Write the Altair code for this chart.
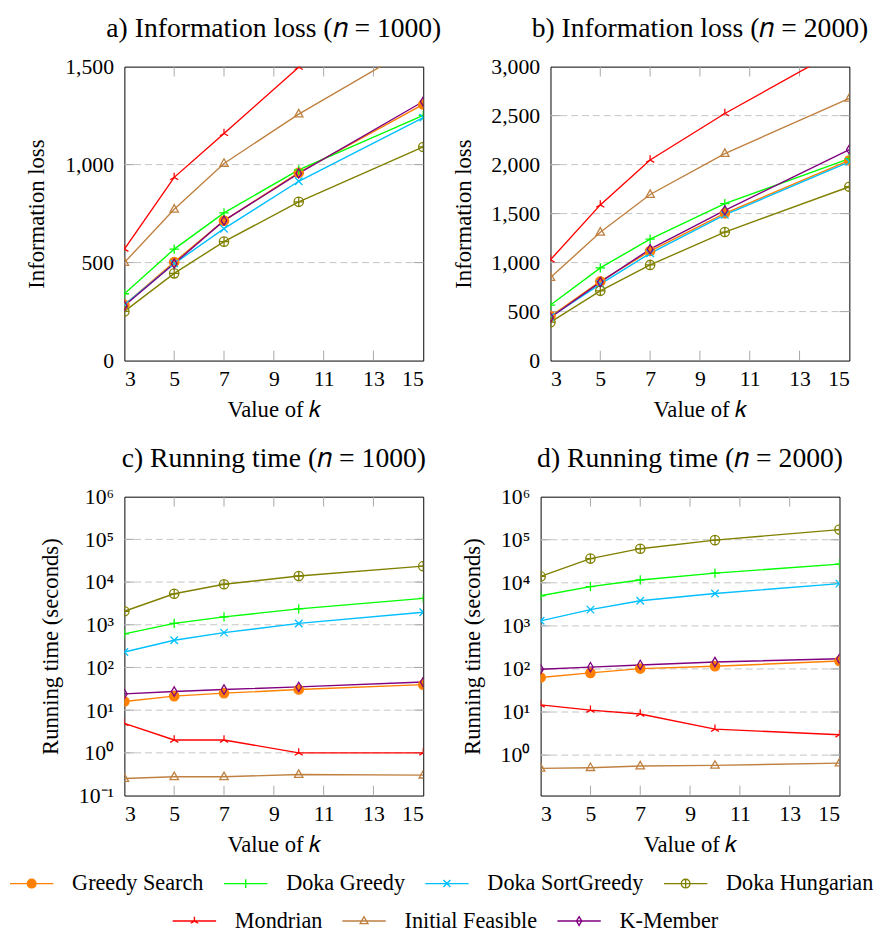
import altair as alt
import pandas as pd

# ---------------- data ----------------
K_VALUES = [3, 5, 7, 10, 15]
X_TICKS = [3, 5, 7, 9, 11, 13, 15]
X_INNER_TICKS = [5, 7, 9, 11, 13]

SERIES = ["Greedy Search", "Doka Greedy", "Doka SortGreedy", "Doka Hungarian",
          "Mondrian", "Initial Feasible", "K-Member"]
COLORS = ["#FF8000", "#00FF00", "#00BFFF", "#808000", "#FF0000", "#BF8040", "#800080"]
FILLS = ["#FF8000", "transparent", "transparent", "transparent",
         "transparent", "transparent", "transparent"]

# a) Information loss, n = 1000
IL_1000 = {
    "Greedy Search":    [284, 503, 714, 959, 1307],
    "Doka Greedy":      [341, 569, 754, 973, 1251],
    "Doka SortGreedy":  [284, 495, 673, 915, 1240],
    "Doka Hungarian":   [251, 445, 607, 810, 1090],
    "Mondrian":         [569, 935, 1159, 1497, 1950],
    "Initial Feasible": [500, 772, 1006, 1258, 1627],
    "K-Member":         [280, 495, 714, 955, 1322],
}
# b) Information loss, n = 2000
IL_2000 = {
    "Greedy Search":    [452, 808, 1118, 1503, 2044],
    "Doka Greedy":      [567, 946, 1240, 1602, 2061],
    "Doka SortGreedy":  [445, 781, 1095, 1487, 2028],
    "Doka Hungarian":   [392, 712, 976, 1312, 1774],
    "Mondrian":         [1029, 1589, 2047, 2522, 3229],
    "Initial Feasible": [847, 1309, 1695, 2113, 2677],
    "K-Member":         [440, 801, 1137, 1533, 2153],
}
# c) Running time (seconds), n = 1000
RT_1000 = {
    "Greedy Search":    [16, 21.3, 25, 30.4, 39.6],
    "Doka Greedy":      [610, 1075, 1535, 2350, 4150],
    "Doka SortGreedy":  [230, 435, 654, 1075, 1966],
    "Doka Hungarian":   [2075, 5320, 8900, 13870, 23600],
    "Mondrian":         [4.9, 2.0, 2.0, 1.0, 1.0],
    "Initial Feasible": [0.25, 0.275, 0.275, 0.311, 0.30],
    "K-Member":         [24, 27.3, 30.4, 35, 45.6],
}
# d) Running time (seconds), n = 2000
RT_2000 = {
    "Greedy Search":    [63.5, 81, 102, 115.5, 153],
    "Doka Greedy":      [5000, 8180, 11640, 16840, 27100],
    "Doka SortGreedy":  [1312, 2390, 3840, 5650, 9600],
    "Doka Hungarian":   [14100, 36500, 62000, 98000, 172000],
    "Mondrian":         [14.7, 11.1, 9.0, 4.0, 2.97],
    "Initial Feasible": [0.493, 0.51, 0.557, 0.577, 0.653],
    "K-Member":         [98.6, 110, 124, 145, 173],
}

IL_1000_LABELS = [0, 500, 1000, 1500]
IL_1000_GRID = [500, 1000]
IL_2000_LABELS = [0, 500, 1000, 1500, 2000, 2500, 3000]
IL_2000_GRID = [500, 1000, 1500, 2000, 2500]
RT_1000_LABELS = [0.1, 1, 10, 100, 1e3, 1e4, 1e5, 1e6]
RT_2000_LABELS = [1, 10, 100, 1e3, 1e4, 1e5, 1e6]
RT_GRID = [1, 10, 100, 1e3, 1e4, 1e5]

# ---------------- style ----------------
FONT = "Liberation Serif"
TXT = 22
AX_TTL = 23
LEG_TXT = 22.5
TTL = 28
W = 303
H_TOP = 298
H_BOTTOM = 303


def fmt(v):
    return ("%.3f" % v).rstrip("0").rstrip(".")


def circle(r):
    return f"M{fmt(r)},0A{fmt(r)},{fmt(r)},0,1,1,{fmt(-r)},0A{fmt(r)},{fmt(r)},0,1,1,{fmt(r)},0Z"


def marker_paths(r):
    return [
        circle(r),
        f"M{fmt(-r)},0H{fmt(r)}M0,{fmt(-r)}V{fmt(r)}",
        f"M{fmt(-0.8*r)},{fmt(-0.8*r)}L{fmt(0.8*r)},{fmt(0.8*r)}M{fmt(-0.8*r)},{fmt(0.8*r)}L{fmt(0.8*r)},{fmt(-0.8*r)}",
        circle(r) + f"M{fmt(-r)},0H{fmt(r)}M0,{fmt(-r)}V{fmt(r)}",
        f"M0,0V{fmt(-r)}M0,0L{fmt(-0.87*r)},{fmt(0.5*r)}M0,0L{fmt(0.87*r)},{fmt(0.5*r)}",
        f"M0,{fmt(-r)}L{fmt(0.9*r)},{fmt(0.6*r)}L{fmt(-0.9*r)},{fmt(0.6*r)}Z",
        f"M0,{fmt(-r)}L{fmt(0.6*r)},0L0,{fmt(r)}L{fmt(-0.6*r)},0Z",
    ]


PLOT_SHAPES = marker_paths(1.0)
LEGEND_SHAPES = ["M-1,0H1" + p for p in marker_paths(0.2)]


def long_df(d):
    rows = []
    for s in SERIES:
        for k, v in zip(K_VALUES, d[s]):
            rows.append({"series": s, "k": k, "v": v})
    return pd.DataFrame(rows)


def legend_layer(names, legend_x, legend_y):
    idx = [SERIES.index(n) for n in names]
    df = pd.DataFrame({"series": names})
    lg = alt.Legend(title=None, orient="none", legendX=legend_x, legendY=legend_y,
                    direction="horizontal", padding=0,
                    symbolSize=1936, symbolStrokeWidth=1.4, labelFont=FONT, labelFontSize=LEG_TXT,
                    labelColor="black", labelOffset=18, columnPadding=19, clipHeight=22,
                    symbolOpacity=1)
    return alt.Chart(df).transform_filter("false").mark_point(filled=False, opacity=1).encode(
        stroke=alt.Stroke("series:N", scale=alt.Scale(domain=names, range=[COLORS[i] for i in idx]), legend=lg),
        fill=alt.Fill("series:N", scale=alt.Scale(domain=names, range=[FILLS[i] for i in idx]), legend=lg),
        shape=alt.Shape("series:N", scale=alt.Scale(domain=names, range=[LEGEND_SHAPES[i] for i in idx]), legend=lg),
    )


def panel(data, title, ytitle, ydomain, ylabels, ygrid, log, w, h, extra=()):
    df = long_df(data)
    xenc = alt.X("k:Q", scale=alt.Scale(domain=[3, 15], nice=False, zero=False),
                 axis=alt.Axis(values=X_TICKS, title="Value of 𝑘", labelPadding=8,
                               titlePadding=10))
    if log:
        yscale = alt.Scale(type="log", domain=ydomain, nice=False)
        yaxis = alt.Axis(values=ylabels, title=ytitle, labelPadding=11, titlePadding=16,
                         labelExpr="'10' + ['⁻¹','⁰','¹','²','³','⁴','⁵','⁶'][round(log(datum.value)/LN10)+1]")
    else:
        yscale = alt.Scale(domain=ydomain, nice=False, zero=False)
        yaxis = alt.Axis(values=ylabels, title=ytitle, format=",.0f", labelPadding=11,
                         titlePadding=16)
    yenc = alt.Y("v:Q", scale=yscale, axis=yaxis)

    stroke = alt.Stroke("series:N", scale=alt.Scale(domain=SERIES, range=COLORS), legend=None)
    fill = alt.Fill("series:N", scale=alt.Scale(domain=SERIES, range=FILLS), legend=None)
    shape = alt.Shape("series:N", scale=alt.Scale(domain=SERIES, range=PLOT_SHAPES), legend=None)

    grid_df = pd.DataFrame({"v": ygrid})
    xt_df = pd.DataFrame({"k": X_INNER_TICKS})

    grid = alt.Chart(grid_df).mark_rule(color="#c4c4c4", strokeDash=[7, 4], strokeWidth=1).encode(y=yenc)
    yt_left = alt.Chart(grid_df).mark_rule(color="#a8a8a8", strokeWidth=1).encode(
        y=yenc, x=alt.value(0), x2=alt.value(10))
    yt_right = alt.Chart(grid_df).mark_rule(color="#a8a8a8", strokeWidth=1).encode(
        y=yenc, x=alt.value(w - 10), x2=alt.value(w))
    xt_bottom = alt.Chart(xt_df).mark_rule(color="#a8a8a8", strokeWidth=1).encode(
        x=xenc, y=alt.value(h), y2=alt.value(h - 10))
    xt_top = alt.Chart(xt_df).mark_rule(color="#a8a8a8", strokeWidth=1).encode(
        x=xenc, y=alt.value(0), y2=alt.value(10))

    lines = alt.Chart(df).mark_line(clip=True, strokeWidth=1.4).encode(
        x=xenc, y=yenc, stroke=stroke, detail="series:N")
    points = alt.Chart(df).mark_point(clip=True, filled=False, size=90, strokeWidth=1.3,
                                      opacity=1).encode(
        x=xenc, y=yenc, stroke=stroke, fill=fill, shape=shape)

    layers = [grid, yt_left, yt_right, xt_bottom, xt_top, lines, points] + list(extra)
    ch = alt.layer(*layers).properties(
        width=w, height=h,
        title=alt.TitleParams(text=title, fontSize=TTL, font=FONT, fontWeight="normal",
                              anchor="middle", frame="group", offset=13, color="black"),
    )
    if extra:
        ch = ch.resolve_scale(stroke="independent", fill="independent", shape="independent")
    return ch


a = panel(IL_1000, "a) Information loss (𝑛 = 1000)", "Information loss", [0, 1500],
          IL_1000_LABELS, IL_1000_GRID, False, W, H_TOP)
b = panel(IL_2000, "b) Information loss (𝑛 = 2000)", "Information loss", [0, 3000],
          IL_2000_LABELS, IL_2000_GRID, False, W, H_TOP)
c = panel(RT_1000, "c) Running time (𝑛 = 1000)", "Running time (seconds)", [0.1, 1e6],
          RT_1000_LABELS, RT_GRID, True, W, H_BOTTOM,
          extra=(legend_layer(SERIES[:4], -117, 381), legend_layer(SERIES[4:], 48, 419)))
d = panel(RT_2000, "d) Running time (𝑛 = 2000)", "Running time (seconds)", [0.115, 1e6],
          RT_2000_LABELS, RT_GRID, True, W, H_BOTTOM)

row1 = alt.hconcat(a, b, spacing=129, bounds="flush")
row2 = alt.hconcat(c, d, spacing=119, bounds="flush")

chart = alt.vconcat(row1, row2, spacing=22).properties(
    padding={"left": 0, "top": 0, "right": 0, "bottom": 0}
).configure(font=FONT).configure_view(stroke="black", strokeWidth=1).configure_axis(
    grid=False, domain=False, ticks=False, tickSize=0, labelFont=FONT, titleFont=FONT,
    labelFontSize=TXT, titleFontSize=AX_TTL, labelColor="black", titleColor="black",
    titleFontWeight="normal",
)

chart.save("out.html", embed_options={"renderer": "svg", "actions": False})
